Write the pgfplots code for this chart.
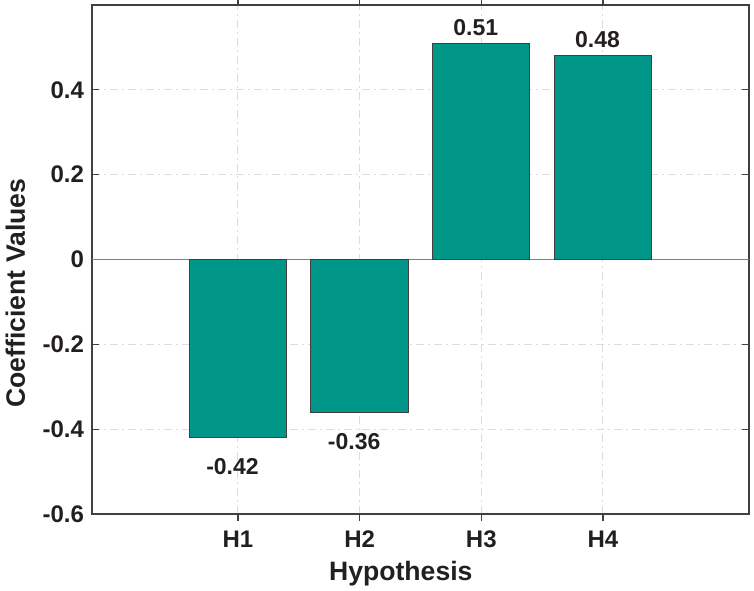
\documentclass[border=0pt]{standalone}
\usepackage{fontspec}
\setmainfont{Liberation Sans}
\usepackage{pgfplots}
\pgfplotsset{compat=1.18}
\definecolor{barfill}{HTML}{009688}
\definecolor{axgray}{HTML}{404040}
\definecolor{gridgray}{HTML}{DCDCDC}
\definecolor{txt}{HTML}{231F20}
\begin{document}
\begin{tikzpicture}
\begin{axis}[
  scale only axis,
  width=328.5pt, height=254.5pt,
  xmin=-0.2, xmax=5.2,
  ymin=-0.6, ymax=0.6,
  xtick={1,2,3,4},
  xticklabels={H1,H2,H3,H4},
  ytick={-0.6,-0.4,-0.2,0,0.2,0.4},
  yticklabels={-0.6,-0.4,-0.2,0,0.2,0.4},
  tick align=inside,
  major tick length=3.5pt,
  every tick/.style={axgray, line width=0.6pt},
  axis line style={axgray, line width=0.8pt},
  grid=major,
  major grid style={gridgray, dash pattern=on 4pt off 2pt on 1pt off 2pt, line width=0.5pt},
  ticklabel style={font=\fontsize{12}{14}\selectfont\bfseries, text=txt},
  xticklabel style={yshift=-1.5pt},
  yticklabel style={xshift=-0.5pt},
  xlabel={Hypothesis},
  ylabel={Coefficient Values},
  every axis x label/.style={at={(axis description cs:0.470,-0.1297)}, anchor=base, font=\fontsize{13.3}{15}\selectfont\bfseries, text=txt},
  every axis y label/.style={at={(axis description cs:-0.102,0.434)}, anchor=base, rotate=90, font=\fontsize{13.3}{15}\selectfont\bfseries, text=txt},
  ybar, bar width=0.8,
  axis on top=false,
]
\addplot[draw=gray, line width=0.5pt, forget plot, no markers, sharp plot] coordinates {(-0.2,0) (5.2,0)};
\addplot[fill=barfill, draw=axgray, line width=0.5pt, bar shift=0pt,
  nodes near coords, nodes near coords style={font=\fontsize{11.5}{13}\selectfont\bfseries, text=txt, anchor=north, yshift=-7pt, xshift=-2.75pt},
  point meta=explicit symbolic]
  coordinates {(1,-0.42) [-0.42] (2,-0.36) [-0.36]};
\addplot[fill=barfill, draw=axgray, line width=0.5pt, bar shift=0pt,
  nodes near coords, nodes near coords style={font=\fontsize{11.5}{13}\selectfont\bfseries, text=txt, anchor=base, yshift=4pt, xshift=-2.75pt},
  point meta=explicit symbolic]
  coordinates {(3,0.51) [0.51] (4,0.48) [0.48]};
\coordinate (bl) at (rel axis cs:0,0);
\coordinate (tr) at (rel axis cs:1,1);
\end{axis}
\pgfresetboundingbox
\path ([xshift=-46pt,yshift=-38pt]bl) rectangle ([xshift=2.5pt,yshift=2.5pt]tr);
\end{tikzpicture}
\end{document}
